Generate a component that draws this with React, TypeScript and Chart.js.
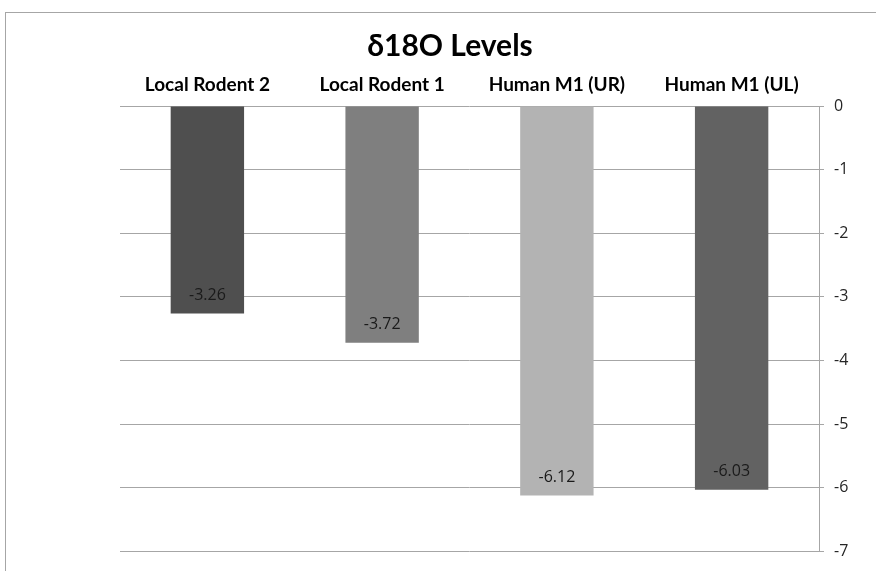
import React, { useEffect, useRef } from "react";
import { Chart, registerables } from "chart.js";

Chart.register(...registerables);

const categories = ["Local Rodent 2", "Local Rodent 1", "Human M1 (UR)", "Human M1 (UL)"];
const values = [-3.26, -3.72, -6.12, -6.03];
const barColors = ["#4f4f4f", "#7f7f7f", "#b3b3b3", "#626262"];
const valueLabels = ["-3.26", "-3.72", "-6.12", "-6.03"];
const titleText = "δ18O Levels";

const framePlugin = {
  id: "frame",
  beforeDraw(chart: any) {
    const ctx = chart.ctx;
    ctx.save();
    ctx.fillStyle = "#ffffff";
    ctx.fillRect(0, 0, chart.width, chart.height);
    ctx.strokeStyle = "#a6a6a6";
    ctx.lineWidth = 1;
    ctx.strokeRect(5.5, 12.5, 1000, 1000);
    ctx.restore();
  },
  afterDraw(chart: any) {
    const ctx = chart.ctx;
    ctx.save();
    ctx.fillStyle = "#000000";
    ctx.font = "bold 30px Lato, 'Open Sans', sans-serif";
    ctx.textAlign = "center";
    ctx.textBaseline = "alphabetic";
    ctx.fillText(titleText, 450, 56);
    // data labels
    const meta = chart.getDatasetMeta(0);
    ctx.font = "16px 'Open Sans', sans-serif";
    ctx.fillStyle = "#1a1a1a";
    ctx.textBaseline = "middle";
    meta.data.forEach((bar: any, i: number) => {
      ctx.fillText(valueLabels[i], bar.x, bar.y - 18);
    });
    ctx.restore();
  },
};

export default function App() {
  const ref = useRef<HTMLCanvasElement | null>(null);
  useEffect(() => {
    if (!ref.current) return;
    const chart = new Chart(ref.current, {
      type: "bar",
      data: {
        labels: categories,
        datasets: [
          {
            data: values,
            backgroundColor: barColors,
            borderWidth: 0,
            categoryPercentage: 1,
            barPercentage: 0.42,
          },
        ],
      },
      options: {
        animation: false,
        responsive: true,
        maintainAspectRatio: false,
        layout: { padding: { top: 66, left: 120, right: 0, bottom: 19 } },
        plugins: { legend: { display: false }, title: { display: false }, tooltip: { enabled: false } },
        scales: {
          x: {
            position: "top",
            grid: { display: false, drawTicks: false },
            border: { display: false },
            ticks: {
              color: "#000000",
              font: { family: "Lato, 'Open Sans', sans-serif", size: 19, weight: "bold" },
              padding: 10,
              maxRotation: 0,
            },
            afterFit(scale: any) {
              scale.height = 40;
            },
          },
          y: {
            position: "right",
            min: -7,
            max: 0,
            ticks: {
              stepSize: 1,
              color: "#262626",
              font: { family: "'Open Sans', sans-serif", size: 16 },
              padding: 10,
            },
            grid: { color: "#a6a6a6", lineWidth: 1, tickLength: 5, drawTicks: true },
            border: { display: true, color: "#a6a6a6", width: 1 },
            afterFit(scale: any) {
              scale.width = 57;
            },
          },
        },
      },
      plugins: [framePlugin],
    });
    return () => chart.destroy();
  }, []);
  return (
    <div style={{ position: "fixed", left: 0, top: 0, width: 876, height: 571 }}>
      <canvas ref={ref} />
    </div>
  );
}
